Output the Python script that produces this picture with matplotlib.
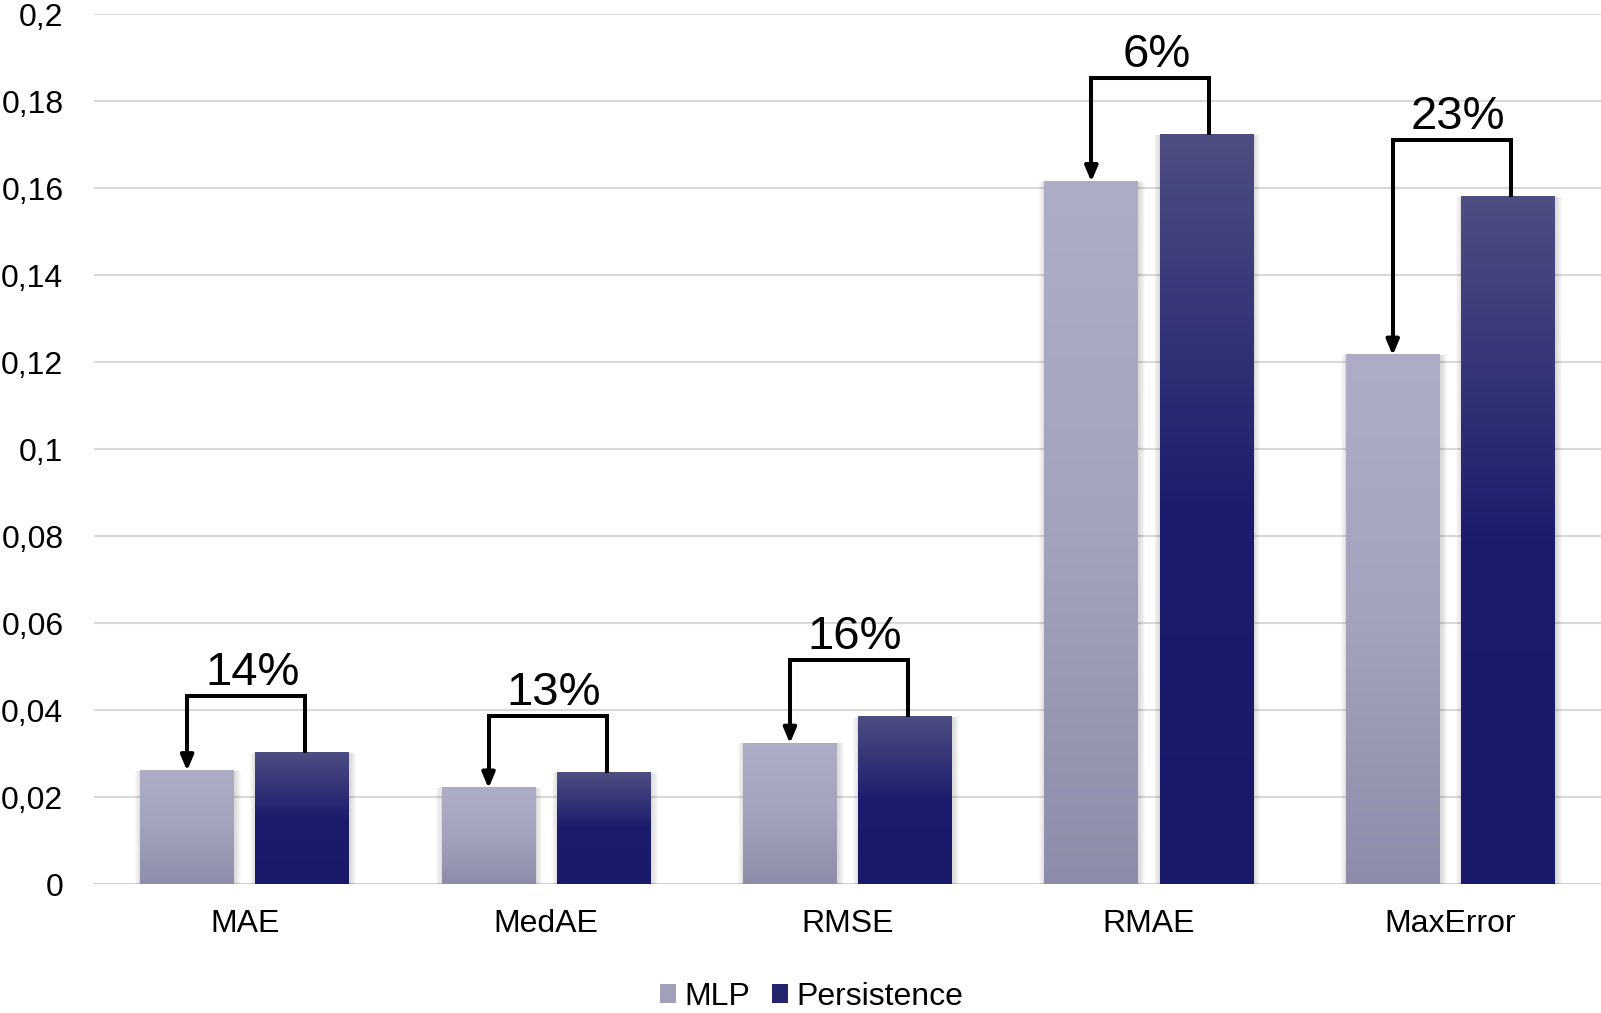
import numpy as np
import matplotlib.pyplot as plt
from matplotlib.colors import LinearSegmentedColormap
from matplotlib.patches import Rectangle

plt.rcParams['font.family'] = ['Liberation Sans', 'DejaVu Sans']

metrics = ['MAE', 'MedAE', 'RMSE', 'RMAE', 'MaxError']
mlp = [0.0261, 0.0221, 0.0324, 0.1615, 0.1216]
persistence = [0.0303, 0.0256, 0.0385, 0.1723, 0.1580]
gains = ['14%', '13%', '16%', '6%', '23%']
yticks = [0, 0.02, 0.04, 0.06, 0.08, 0.1, 0.12, 0.14, 0.16, 0.18, 0.2]

# vertical gradients (top -> bottom)
cmap_mlp = LinearSegmentedColormap.from_list('mlp', ['#adadc5', '#a3a3bd', '#8d8da9'])
cmap_per = LinearSegmentedColormap.from_list('per', [(0, '#4e4e82'), (0.5, '#1c1c6e'), (1, '#19196a')])

fig = plt.figure(figsize=(16.01, 10.13), dpi=100)
ax = fig.add_axes([0.0587, 0.127, 0.9413, 0.859])

x = np.arange(len(metrics))
width = 0.311
offset = 0.191

def gradient_bar(xc, h, cmap):
    x0, x1 = xc - width / 2, xc + width / 2
    # soft shadow
    for k in range(6, 0, -1):
        dx = 0.0034 * k
        dy = 0.00024 * k
        ax.add_patch(Rectangle((x0 - dx + 0.003, -dy), (x1 - x0) + 2 * dx, h + dy,
                               facecolor='black', edgecolor='none', alpha=0.025, zorder=2))
    grad = np.linspace(0, 1, 256).reshape(-1, 1)
    ax.imshow(grad, cmap=cmap, extent=(x0, x1, 0, h), origin='upper',
              aspect='auto', zorder=3, interpolation='bicubic')

for i in range(len(metrics)):
    gradient_bar(x[i] - offset, mlp[i], cmap_mlp)
    gradient_bar(x[i] + offset, persistence[i], cmap_per)

    # bracket from persistence bar to the MLP bar
    top = persistence[i] + 0.0130
    xl, xr = x[i] - offset, x[i] + offset + 0.01
    ax.plot([xr, xr, xl, xl], [persistence[i], top, top, mlp[i] + 0.004],
            color='black', lw=2.9, solid_joinstyle='miter', solid_capstyle='butt', zorder=5)
    ax.annotate('', xy=(xl, mlp[i]), xytext=(xl, mlp[i] + 0.0045),
                arrowprops=dict(arrowstyle='-|>,head_length=0.9,head_width=0.38',
                                color='black', lw=2.9, shrinkA=0, shrinkB=0), zorder=6)
    ax.text((xl + xr) / 2 + 0.02, top + 0.0003, gains[i], ha='center', va='bottom',
            fontsize=34, color='black', zorder=6)

ax.set_xlim(-0.5, len(metrics) - 0.5)
ax.set_ylim(0, 0.2)
ax.set_yticks(yticks)
ax.set_yticklabels([('%g' % v).replace('.', ',') for v in yticks])
ax.set_xticks(x)
ax.set_xticklabels(metrics)
ax.tick_params(axis='both', length=0, labelsize=23, colors='black')
ax.tick_params(axis='y', pad=22)
ax.tick_params(axis='x', pad=18)
for s in ax.spines.values():
    s.set_visible(False)
ax.yaxis.grid(True, color='#d9d9d9', lw=1.5, zorder=0)
ax.set_axisbelow(True)
ax.axhline(0, color='#cfcfcf', lw=1.8, zorder=1)

handles = [Rectangle((0, 0), 1, 1, facecolor='#a0a0bb', edgecolor='none'),
           Rectangle((0, 0), 1, 1, facecolor='#24246f', edgecolor='none')]
fig.legend(handles, ['MLP', 'Persistence'], loc='center', bbox_to_anchor=(0.507, 0.016),
           ncol=2, frameon=False, fontsize=23, handlelength=0.5, handleheight=0.5,
           handletextpad=0.25, columnspacing=0.7)

fig.savefig('out.png', dpi=100)
